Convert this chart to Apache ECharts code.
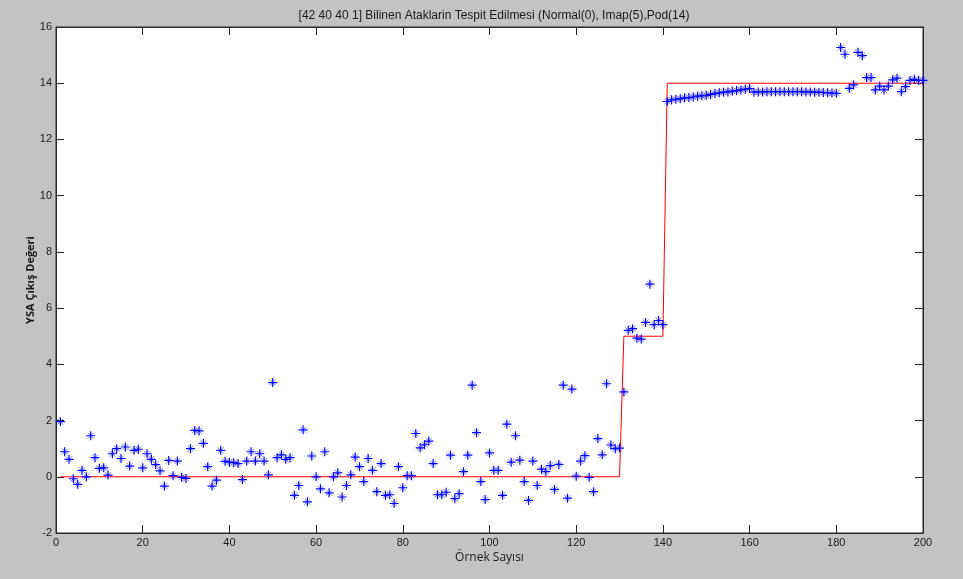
<!DOCTYPE html>
<html>
<head>
<meta charset="utf-8">
<script src="https://cdn.jsdelivr.net/npm/echarts@6/dist/echarts.min.js"></script>
<style>
html,body{margin:0;padding:0;background:#c3c3c3;}
#chart{width:963px;height:579px;}
</style>
</head>
<body>
<div id="chart"></div>
<script>
// Network output (YSA Çıkış Değeri) per sample 1..200
var outputValues = [
 1.96, 0.89, 0.62,-0.07,-0.27, 0.23, 0.00, 1.46, 0.68, 0.30,
 0.32, 0.06, 0.82, 1.00, 0.65, 1.06, 0.38, 0.94, 0.98, 0.32,
 0.82, 0.62, 0.43, 0.21,-0.33, 0.58, 0.04, 0.56,-0.02,-0.06,
 1.00, 1.65, 1.63, 1.19, 0.36,-0.33,-0.12, 0.94, 0.55, 0.52,
 0.50, 0.47,-0.10, 0.56, 0.89, 0.56, 0.82, 0.56, 0.07, 3.35,
 0.68, 0.78, 0.62, 0.68,-0.66,-0.31, 1.67,-0.89, 0.74, 0.00,
-0.43, 0.89,-0.57, 0.00, 0.14,-0.72,-0.31, 0.07, 0.70, 0.36,
-0.17, 0.65, 0.23,-0.53, 0.47,-0.66,-0.64,-0.95, 0.36,-0.39,
 0.04, 0.04, 1.54, 1.03, 1.14, 1.27, 0.47,-0.64,-0.64,-0.55,
 0.77,-0.78,-0.60, 0.18, 0.77, 3.26, 1.57,-0.17,-0.81, 0.85,
 0.23, 0.23,-0.66, 1.87, 0.52, 1.46, 0.59,-0.17,-0.84, 0.56,
-0.31, 0.27, 0.18, 0.40,-0.45, 0.44, 3.26,-0.76, 3.12, 0.02,
 0.56, 0.75,-0.02,-0.53, 1.36, 0.78, 3.31, 1.13, 1.00, 1.02,
 3.02, 5.21, 5.27, 4.93, 4.90, 5.49, 6.85, 5.41, 5.56, 5.41,
13.35,13.41,13.43,13.45,13.48,13.49,13.51,13.54,13.55,13.57,
13.60,13.63,13.66,13.68,13.69,13.72,13.74,13.76,13.79,13.81,
13.68,13.69,13.69,13.70,13.70,13.70,13.70,13.70,13.70,13.70,
13.70,13.70,13.69,13.69,13.68,13.68,13.67,13.66,13.65,13.64,
15.27,15.03,13.82,13.94,15.10,14.98,14.20,14.20,13.76,13.90,
13.76,13.90,14.12,14.18,13.70,13.88,14.10,14.14,14.10,14.10
];
// Target step line (red)
var targetX = [1, 130, 131, 140, 141, 200];
var targetY = [0, 0, 5, 5, 14, 14];
// Axis ticks
var xTicks = [0,20,40,60,80,100,120,140,160,180,200];
var yTicks = [-2,0,2,4,6,8,10,12,14,16];

var titleText = '[42 40 40 1] Bilinen Ataklarin Tespit Edilmesi (Normal(0), Imap(5),Pod(14)';
var xName = 'Örnek Sayısı';
var yName = 'YSA Çıkış Değeri';

var scatterData = outputValues.map(function(v,i){ return [i+1, v]; });
var lineData = targetX.map(function(x,i){ return [x, targetY[i]]; });

var plusPath = 'path://M0,4L8,4M4,0L4,8';
var crossPath = 'path://M0,0L6,6M6,0L0,6';
var tickFont = {color:'#1a1a1a', fontSize:11, fontFamily:'Liberation Sans Narrow, Liberation Sans, Arial, sans-serif'};
var lineStyleAxis = {color:'#262626', width:1};

var chart = echarts.init(document.getElementById('chart'), null, {renderer:'canvas'});
chart.setOption({
  backgroundColor:'#c3c3c3',
  animation:false,
  title:{
    text:titleText, left:489, top:5, textAlign:'center',
    textStyle:{fontSize:12, fontWeight:'normal', color:'#1a1a1a', fontFamily:'Liberation Sans Narrow, Liberation Sans, Arial, sans-serif'}
  },
  grid:{left:56, top:27, width:867, height:506, show:true, backgroundColor:'#ffffff', borderColor:'#262626', borderWidth:1},
  xAxis:[{
    type:'value', min:0, max:200, interval:20, position:'bottom',
    name:xName, nameLocation:'middle', nameGap:19, nameMoveOverlap:false,
    nameTextStyle:{fontSize:12, color:'#1a1a1a', fontFamily:'Open Sans, Noto Sans, sans-serif'},
    axisLine:{show:true, onZero:false, lineStyle:lineStyleAxis},
    axisTick:{show:true, inside:true, length:8, lineStyle:lineStyleAxis},
    axisLabel:Object.assign({margin:4, formatter:function(v){return xTicks.indexOf(v)>=0?String(v):'';}}, tickFont),
    splitLine:{show:false}
  },{
    type:'value', min:0, max:200, interval:20, position:'top',
    axisLine:{show:true, onZero:false, lineStyle:lineStyleAxis},
    axisTick:{show:true, inside:true, length:8, lineStyle:lineStyleAxis},
    axisLabel:{show:false}, splitLine:{show:false}
  }],
  yAxis:[{
    type:'value', min:-2, max:16, interval:2, position:'left',
    name:yName, nameLocation:'middle', nameGap:20, nameRotate:90, nameMoveOverlap:false,
    nameTextStyle:{fontSize:11, fontWeight:'bold', color:'#1a1a1a', fontFamily:'Open Sans, Noto Sans, sans-serif'},
    axisLine:{show:true, onZero:false, lineStyle:lineStyleAxis},
    axisTick:{show:true, inside:true, length:8, lineStyle:lineStyleAxis},
    axisLabel:Object.assign({margin:4, formatter:function(v){return yTicks.indexOf(v)>=0?String(v):'';}}, tickFont),
    splitLine:{show:false}
  },{
    type:'value', min:-2, max:16, interval:2, position:'right',
    axisLine:{show:true, onZero:false, lineStyle:lineStyleAxis},
    axisTick:{show:true, inside:true, length:8, lineStyle:lineStyleAxis},
    axisLabel:{show:false}, splitLine:{show:false}
  }],
  series:[{
    type:'line', data:lineData, xAxisIndex:0, yAxisIndex:0,
    symbol:'none', lineStyle:{color:'#ff0000', width:1}, z:2
  },{
    type:'scatter', data:scatterData, xAxisIndex:0, yAxisIndex:0,
    symbol:crossPath, symbolSize:6,
    itemStyle:{color:'rgba(0,0,0,0)', borderColor:'rgba(80,80,255,0.75)', borderWidth:1, opacity:1},
    z:3
  },{
    type:'scatter', data:scatterData, xAxisIndex:0, yAxisIndex:0,
    symbol:plusPath, symbolSize:9,
    itemStyle:{color:'rgba(0,0,0,0)', borderColor:'#0000ff', borderWidth:1.2, opacity:1},
    z:4
  }]
});
</script>
</body>
</html>
